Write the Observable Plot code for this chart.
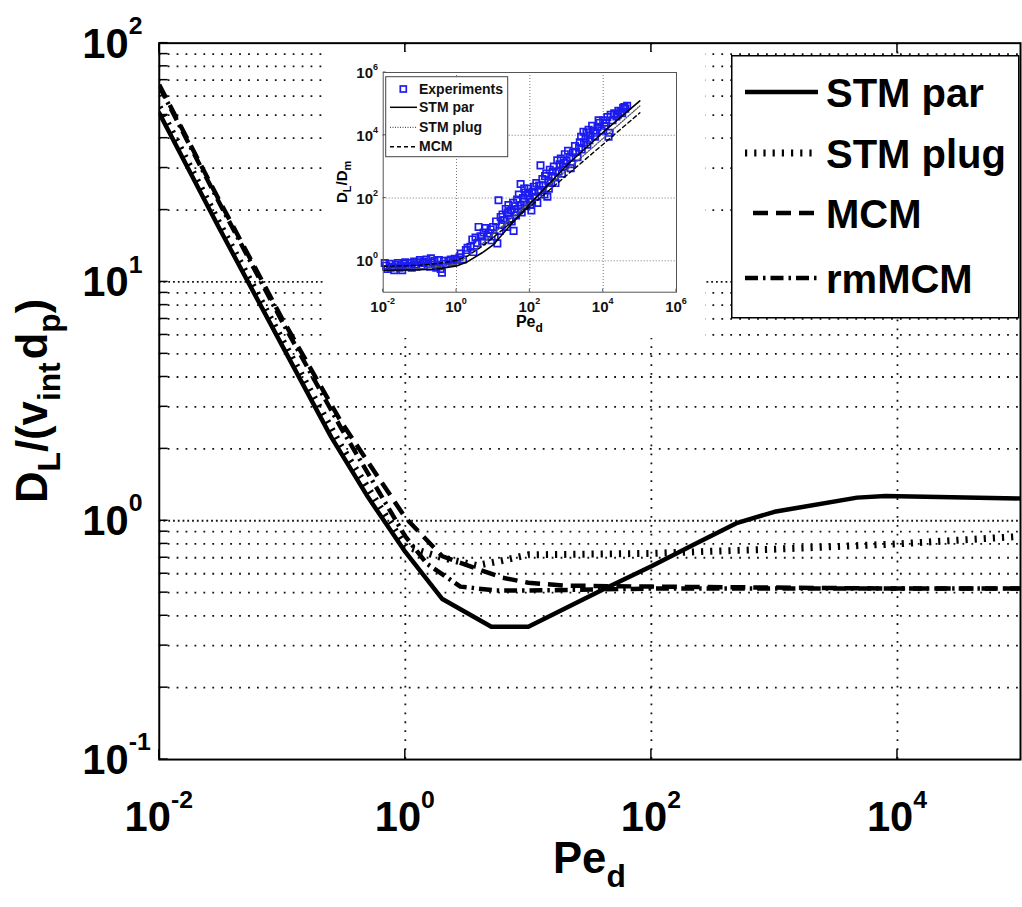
<!DOCTYPE html>
<html><head><meta charset="utf-8">
<script src="https://cdn.jsdelivr.net/npm/d3@7"></script>
<script src="https://cdn.jsdelivr.net/npm/@observablehq/plot@0.6"></script>
<style>
html,body{margin:0;padding:0;background:#fff;overflow:hidden;width:1022px;height:907px;}
#wrap{position:relative;width:1022px;height:907px;overflow:hidden;}
#main{position:absolute;left:0;top:0;}
#inset{position:absolute;left:325px;top:52px;background:#fff;}
#legend{position:absolute;left:731px;top:55px;}
svg text{font-family:"Liberation Sans",Arial,Helvetica,sans-serif;font-weight:bold;}
</style></head>
<body><div id="wrap"><div id="main"></div><div id="inset"></div><div id="legend"></div></div>
<script>
// ---------- main chart data ----------
const seriesNames = ["STM par", "STM plug", "MCM", "rmMCM"];
const stmParPe  = [0.01, 0.03, 0.1, 0.25, 0.5, 1, 2, 5, 10, 42, 100, 226, 500, 1000, 4700, 8000, 100000];
const stmParVal = [51, 17.2, 5.4, 2.24, 1.25, 0.74, 0.47, 0.36, 0.36, 0.52, 0.645, 0.80, 0.98, 1.09, 1.25, 1.27, 1.24];
const stmPlugPe  = [0.01, 0.03, 0.1, 0.3, 1, 2, 3.8, 6, 10, 100, 300, 1000, 10000, 100000];
const stmPlugVal = [54, 18, 5.7, 2.05, 0.78, 0.70, 0.65, 0.68, 0.72, 0.73, 0.745, 0.76, 0.80, 0.86];
const mcmPe  = [0.01, 0.03, 0.1, 0.3, 1, 2, 3.8, 6.2, 10, 20, 100, 1000, 10000, 100000];
const mcmVal = [67, 22.5, 7.0, 2.6, 1.03, 0.71, 0.63, 0.577, 0.55, 0.535, 0.53, 0.525, 0.52, 0.52];
const rmMcmPe  = [0.01, 0.03, 0.1, 0.3, 1, 1.5, 2.8, 5.5, 10, 100, 10000, 100000];
const rmMcmVal = [66, 22, 6.8, 2.45, 0.86, 0.66, 0.53, 0.51, 0.51, 0.52, 0.52, 0.52];

const xTickVals = [0.01, 1, 100, 10000];
const xTickExp  = ["-2", "0", "2", "4"];
const xGridVals = [1, 100, 10000];
const yTickVals = [0.1, 1, 10, 100];
const yTickExp  = ["-1", "0", "1", "2"];
const yMajorGrid = [1, 10];
const yMinorVals = [0.2,0.3,0.4,0.5,0.6,0.7,0.8,0.9, 2,3,4,5,6,7,8,9, 20,30,40,50,60,70,80,90];

// ---------- inset data ----------
const inParPe  = [0.01, 0.1, 0.3, 1, 2, 5, 10, 30, 100, 1000, 10000, 100000];
const inParVal = [0.5, 0.52, 0.55, 0.68, 0.94, 1.8, 3.2, 14, 65, 1090, 12500, 124000];
const inPlugPe  = [0.01, 0.1, 1, 2, 5, 10, 100, 1000, 10000, 100000];
const inPlugVal = [0.53, 0.56, 0.78, 1.4, 3.5, 7.2, 73, 760, 8000, 86000];
const inMcmPe  = [0.01, 0.1, 0.3, 1, 2, 5, 10, 100, 1000, 10000, 100000];
const inMcmVal = [0.67, 0.72, 0.82, 1.03, 1.42, 2.9, 5.5, 53, 525, 5200, 52000];
const expPe = [0.011,0.012,0.013,0.015,0.016,0.018,0.02,0.022,0.025,0.028,0.03,0.033,0.036,0.04,0.045,0.05,0.055,0.06,0.07,0.075,0.08,0.09,0.1,0.11,0.12,0.13,0.15,0.17,0.19,0.2,0.22,0.25,0.28,0.3,0.33,0.37,0.4,0.45,0.5,0.6,0.7,0.8,0.9,1.0,
  1.2,1.3,1.5,1.8,2,2.4,2.7,2.9,3.3,3.7,4,4.5,5,5.5,6.2,7,7.5,8.5,9,
  10,11,12,13,14,15,16,17,18,20,22,24,25,26,28,30,32,35,36,38,40,42,45,48,50,55,56,60,65,70,70,75,80,85,90,95,100,105,110,115,120,130,140,150,160,170,180,195,200,220,230,250,260,280,300,320,330,350,380,400,420,450,480,500,560,600,650,700,750,800,850,900,1000,1100,1200,1300,1400,1500,1700,1800,2000,2200,2300,2500,2600,2900,3000,3300,3500,3700,4000,4200,4500,5000,5500,6000,6500,7000,7500,8000,9000,10000,11000,12000,13000,14000,15000,16000,18000,20000,23000,25000,26000,30000,33000,35000,38000,40000,45000];
const expVal = [0.85,0.7,0.55,0.8,0.6,0.65,0.5,0.75,0.85,0.6,0.7,0.5,0.8,0.9,0.65,0.7,0.85,0.6,0.95,0.75,0.65,0.9,1.05,0.7,0.85,0.95,1.1,0.8,0.65,1.2,0.9,1.0,0.6,0.75,1.05,0.55,0.42,1.0,0.8,1.0,1.1,0.9,1.15,1.05,
  1.3,1.7,1.1,2.2,2.6,2.8,4.8,1.9,5.5,3.7,12,6,4.2,8,11,6,7.5,10,4.5,
  12,6,18,3.6,85,9,25,14,30,20,45,12,33,60,22,40,18,70,9,35,55,28,90,45,130,60,280,35,100,75,200,150,55,120,200,140,90,60,40,75,160,230,110,300,70,160,250,1100,180,400,250,130,500,600,110,350,200,800,300,500,700,1000,450,300,1600,700,1200,1800,600,1000,1300,2500,1500,3200,2000,900,1200,2800,4500,3000,2000,4000,6000,9000,3500,13000,6000,8000,12000,5000,15000,7000,10000,20000,14000,9000,12000,18000,30000,25000,14000,30000,20000,25000,38000,9000,12000,45000,30000,50000,40000,45000,60000,55000,50000,75000,80000,70000,87000];

const tbl = (pe, val) => pe.map((p, i) => ({pe: p, v: val[i]}));

// ---------- main plot ----------
const W = 1030, H = 907;
const main = Plot.plot({
  width: W, height: H,
  marginTop: 43, marginBottom: 142, marginLeft: 160, marginRight: 2,
  x: {type: "log", domain: [1e-2, 1e5], axis: null},
  y: {type: "log", domain: [1e-1, 1e2], axis: null},
  style: {background: "white", overflow: "visible"},
  marks: [
    Plot.ruleY(yMinorVals, {y: d => d, stroke: "#111", strokeWidth: 1.8, strokeDasharray: "1.8,7.2"}),
    Plot.ruleY(yMajorGrid, {y: d => d, stroke: "#111", strokeWidth: 1.8, strokeDasharray: "1.8,3"}),
    Plot.ruleX(xGridVals, {x: d => d, stroke: "#111", strokeWidth: 1.8, strokeDasharray: "1.8,7.2"}),
    Plot.line(tbl(stmPlugPe, stmPlugVal), {x: "pe", y: "v", stroke: "#000", strokeWidth: 7, strokeDasharray: "2.2,7", strokeLinecap: "butt", clip: true}),
    Plot.line(tbl(mcmPe, mcmVal), {x: "pe", y: "v", stroke: "#000", strokeWidth: 4.5, strokeDasharray: "15,8", strokeLinecap: "butt", clip: true}),
    Plot.line(tbl(rmMcmPe, rmMcmVal), {x: "pe", y: "v", stroke: "#000", strokeWidth: 4.5, strokeDasharray: "13,5,2.5,5", strokeLinecap: "butt", clip: true}),
    Plot.line(tbl(stmParPe, stmParVal), {x: "pe", y: "v", stroke: "#000", strokeWidth: 4.5, clip: true}),
    Plot.frame({stroke: "#000", strokeWidth: 2})
  ]
});
document.getElementById("main").appendChild(main);
const sx = main.scale("x"), sy = main.scale("y");
const ms = d3.select(main);
const x0 = sx.range[0], yTop = sy.range[1], yBot = sy.range[0];
const tg = ms.append("g").attr("stroke", "#000").attr("stroke-width", 1.5);
for (const v of yMinorVals.concat(yTickVals)) {
  const y = sy.apply(v);
  tg.append("line").attr("x1", x0).attr("x2", x0 + 9).attr("y1", y).attr("y2", y);
}
for (const v of xTickVals) {
  const x = sx.apply(v);
  tg.append("line").attr("x1", x).attr("x2", x).attr("y1", yBot).attr("y2", yBot - 10);
  tg.append("line").attr("x1", x).attr("x2", x).attr("y1", yTop).attr("y2", yTop + 10);
}
function pow(g, exp, size, supSize, supDy) {
  g.append("tspan").text("10").attr("font-size", size);
  g.append("tspan").text(exp).attr("font-size", supSize).attr("dy", supDy);
}
xTickVals.forEach((v, i) => {
  const t = ms.append("text").attr("x", sx.apply(v)).attr("y", 838).attr("text-anchor", "middle").attr("fill", "#000");
  pow(t, xTickExp[i], 42, 25, -24);
});
yTickVals.forEach((v, i) => {
  const t = ms.append("text").attr("x", 83).attr("y", sy.apply(v) + 15).attr("text-anchor", "start").attr("fill", "#000");
  pow(t, yTickExp[i], 42, 25, -24);
});
// x label
{
  const t = ms.append("text").attr("x", (sx.range[0] + sx.range[1]) / 2).attr("y", 880).attr("text-anchor", "middle").attr("font-size", 44);
  t.append("tspan").text("Pe");
  t.append("tspan").text("d").attr("font-size", 32).attr("dy", 14);
}
// y label
{
  const t = ms.append("text").attr("transform", `translate(47,${(yTop + yBot) / 2}) rotate(-90)`).attr("text-anchor", "middle").attr("font-size", 44);
  t.append("tspan").text("D");
  t.append("tspan").text("L").attr("font-size", 32).attr("dy", 13);
  t.append("tspan").text("/(v").attr("dy", -13);
  t.append("tspan").text("int").attr("font-size", 32).attr("dy", 13);
  t.append("tspan").text("d").attr("dy", -13).attr("dx", 3);
  t.append("tspan").text("p").attr("font-size", 32).attr("dy", 13);
  t.append("tspan").text(")").attr("dy", -13);
}

// ---------- main legend ----------
{
  const lg = d3.select("#legend").append("svg").attr("width", 290).attr("height", 265);
  lg.append("rect").attr("x", 0.75).attr("y", 0.75).attr("width", 287).attr("height", 262).attr("fill", "#fff").attr("stroke", "#000").attr("stroke-width", 1.5);
  const rows = [
    {name: seriesNames[0], y: 37, x1: 14, dash: null, w: 4.5},
    {name: seriesNames[1], y: 98, x1: 14, dash: "2.2,7", w: 7},
    {name: seriesNames[2], y: 158, x1: 22, dash: "15,8", w: 4.5},
    {name: seriesNames[3], y: 223, x1: 14, dash: "13,5,2.5,5", w: 4.5}
  ];
  for (const r of rows) {
    const l = lg.append("line").attr("x1", r.x1).attr("x2", 87).attr("y1", r.y).attr("y2", r.y).attr("stroke", "#000").attr("stroke-width", r.w);
    if (r.dash) l.attr("stroke-dasharray", r.dash);
    lg.append("text").attr("x", 95).attr("y", r.y + 15).attr("font-size", 40).attr("text-anchor", "start").text(r.name);
  }
}

// ---------- inset ----------
const inset = Plot.plot({
  width: 380, height: 286,
  marginTop: 20, marginBottom: 46.3, marginLeft: 57.7, marginRight: 29,
  x: {type: "log", domain: [1e-2, 1e6], axis: null},
  y: {type: "log", domain: [1e-1, 1e6], axis: null},
  style: {background: "white", overflow: "visible"},
  marks: [
    Plot.ruleX([1, 100, 10000], {x: d => d, stroke: "#777", strokeWidth: 1, strokeDasharray: "1,2"}),
    Plot.ruleY([1, 100, 10000], {y: d => d, stroke: "#777", strokeWidth: 1, strokeDasharray: "1,2"}),
    Plot.dot(tbl(expPe, expVal), {x: "pe", y: "v", symbol: "square", r: 3.6, stroke: "#1c1cf0", strokeWidth: 1.7, fill: "none"}),
    Plot.line(tbl(inPlugPe, inPlugVal), {x: "pe", y: "v", stroke: "#555", strokeWidth: 1.3, strokeDasharray: "1,1.5"}),
    Plot.line(tbl(inMcmPe, inMcmVal), {x: "pe", y: "v", stroke: "#000", strokeWidth: 1.4, strokeDasharray: "4,3"}),
    Plot.line(tbl(inParPe, inParVal), {x: "pe", y: "v", stroke: "#000", strokeWidth: 1.6}),
    Plot.frame({stroke: "#555", strokeWidth: 1})
  ]
});
document.getElementById("inset").appendChild(inset);
{
  const ix = inset.scale("x"), iy = inset.scale("y");
  const s = d3.select(inset);
  const inXT = [0.01, 1, 100, 10000, 1000000], inXE = ["-2", "0", "2", "4", "6"];
  const inYT = [1, 100, 10000, 1000000], inYE = ["0", "2", "4", "6"];
  const g = s.append("g").attr("stroke", "#555").attr("stroke-width", 1);
  inXT.forEach(v => { const x = ix.apply(v); g.append("line").attr("x1", x).attr("x2", x).attr("y1", iy.range[0]).attr("y2", iy.range[0] - 3); });
  inYT.forEach(v => { const y = iy.apply(v); g.append("line").attr("x1", ix.range[0]).attr("x2", ix.range[0] + 3).attr("y1", y).attr("y2", y); });
  inXT.forEach((v, i) => {
    const t = s.append("text").attr("x", ix.apply(v)).attr("y", 259.7).attr("text-anchor", "middle").attr("fill", "#111");
    pow(t, inXE[i], 15, 9, -8);
  });
  inYT.forEach((v, i) => {
    const t = s.append("text").attr("x", 53).attr("y", iy.apply(v) + 6).attr("text-anchor", "end").attr("fill", "#111");
    pow(t, inYE[i], 15, 9, -8);
  });
  const xl = s.append("text").attr("x", (ix.range[0] + ix.range[1]) / 2).attr("y", 275).attr("text-anchor", "middle").attr("font-size", 16);
  xl.append("tspan").text("Pe"); xl.append("tspan").text("d").attr("font-size", 12).attr("dy", 5);
  const yl = s.append("text").attr("transform", `translate(22,${(iy.range[0] + iy.range[1]) / 2}) rotate(-90)`).attr("text-anchor", "middle").attr("font-size", 15);
  yl.append("tspan").text("D"); yl.append("tspan").text("L").attr("font-size", 11).attr("dy", 4);
  yl.append("tspan").text("/D").attr("dy", -4); yl.append("tspan").text("m").attr("font-size", 11).attr("dy", 4);
  // inset legend
  const L = s.append("g").attr("transform", "translate(60.7,24.7)");
  L.append("rect").attr("width", 122).attr("height", 80).attr("fill", "#fff").attr("stroke", "#444").attr("stroke-width", 1);
  L.append("rect").attr("x", 14.6).attr("y", 9.3).attr("width", 6).attr("height", 6).attr("fill", "none").attr("stroke", "#1c1cf0").attr("stroke-width", 1.7);
  const names = ["Experiments", seriesNames[0], seriesNames[1], seriesNames[2]];
  const ry = [12.3, 30.6, 50.6, 70];
  const dashes = [null, null, "1,1.5", "4,3"];
  names.forEach((n, i) => {
    if (i > 0) {
      const l = L.append("line").attr("x1", 4.3).attr("x2", 31.3).attr("y1", ry[i]).attr("y2", ry[i]).attr("stroke", i === 2 ? "#555" : "#000").attr("stroke-width", i === 2 ? 1.3 : 1.5);
      if (dashes[i]) l.attr("stroke-dasharray", dashes[i]);
    }
    L.append("text").attr("x", 33.3).attr("y", ry[i] + 4.6).attr("font-size", 14).attr("text-anchor", "start").attr("fill", "#111").text(n);
  });
}
</script></body></html>
